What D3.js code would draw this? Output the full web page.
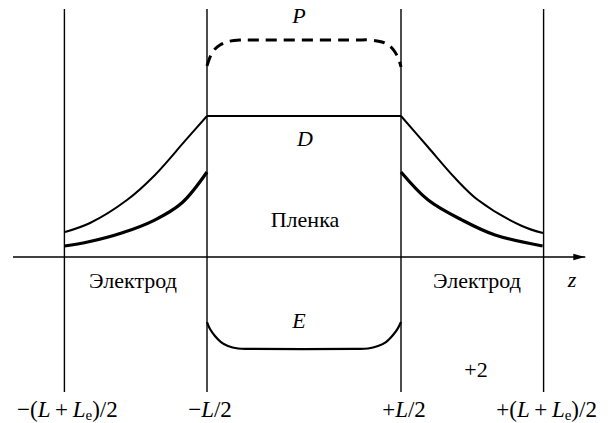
<!DOCTYPE html>
<html>
<head>
<meta charset="utf-8">
<script src="https://cdn.jsdelivr.net/npm/d3@7"></script>
<style>
  body { margin: 0; background: #fff; }
</style>
</head>
<body>
<div id="chart"></div>
<script>
// boundaries of the film and electrodes (units of L/2)
var zBounds = [-2.47, -1, 1, 2.47];

// D inside the electrodes (thin line)
var dLeftZ = [-2.464, -2.206, -1.825, -1.536, -1.227, -1.0];
var dLeftV = [0.177, 0.241, 0.404, 0.582, 0.823, 1.0];
var dRightZ = [1.0, 1.278, 1.557, 1.794, 2.247, 2.464];
var dRightV = [1.0, 0.78, 0.56, 0.404, 0.22, 0.17];

// D inside the film (plateau)
var dFilmZ = [-1, 1];
var dFilmV = [1.0, 1.0];

// thick curves in the electrodes
var eLeftZ = [-2.47, -2.23, -1.88, -1.54, -1.26, -1.0];
var eLeftV = [0.078, 0.106, 0.17, 0.262, 0.383, 0.603];
var eRightZ = [1.0, 1.28, 1.63, 1.97, 2.46];
var eRightV = [0.603, 0.404, 0.262, 0.156, 0.078];

// P (dashed) in the film
var pZ = [-1.0, -0.969, -0.928, -0.866, -0.784, -0.66, -0.505, 0.526, 0.68, 0.804, 0.887, 0.938, 0.979, 1.0];
var pV = [1.355, 1.418, 1.468, 1.504, 1.528, 1.539, 1.539, 1.539, 1.539, 1.525, 1.496, 1.454, 1.397, 1.348];

// E in the film
var fZ = [-1.0, -0.969, -0.918, -0.856, -0.784, -0.68, -0.557, 0.526, 0.66, 0.763, 0.845, 0.918, 0.969, 1.0];
var fV = [-0.461, -0.511, -0.56, -0.603, -0.631, -0.649, -0.652, -0.652, -0.649, -0.631, -0.603, -0.553, -0.504, -0.461];

var svgWidth = 613;
var svgHeight = 423;
var serif = "\"Liberation Serif\", \"DejaVu Serif\", \"Times New Roman\", serif";

var svg = d3.select("#chart")
  .append("svg")
  .attr("width", svgWidth)
  .attr("height", svgHeight);

svg.append("rect")
  .attr("width", svgWidth)
  .attr("height", svgHeight)
  .attr("fill", "#fff");

var x = d3.scaleLinear().domain([-3.0, 2.9]).range([13, 585.3]);
var y = d3.scaleLinear().domain([0, 1]).range([257, 116]);

function zip(zs, vs) {
  return zs.map((z, i) => ({ z: z, v: vs[i] }));
}

var line = d3.line()
  .x(d => x(d.z))
  .y(d => y(d.v))
  .curve(d3.curveCatmullRom.alpha(0.5));

// arrow head for the z axis
svg.append("defs").append("marker")
  .attr("id", "arrow")
  .attr("viewBox", "0 0 12 8")
  .attr("refX", 12)
  .attr("refY", 4)
  .attr("markerWidth", 12)
  .attr("markerHeight", 8)
  .attr("markerUnits", "userSpaceOnUse")
  .attr("orient", "auto")
  .append("path")
  .attr("d", "M0,0.8 L12,4 L0,7.2 Z")
  .attr("fill", "#000");

// z axis
svg.append("line")
  .attr("x1", x(-3.0))
  .attr("x2", x(2.9))
  .attr("y1", y(0))
  .attr("y2", y(0))
  .attr("stroke", "#000")
  .attr("stroke-width", 1.4)
  .attr("marker-end", "url(#arrow)");

// vertical boundary lines
svg.selectAll(".bound")
  .data(zBounds)
  .enter()
  .append("line")
  .attr("class", "bound")
  .attr("x1", d => x(d))
  .attr("x2", d => x(d))
  .attr("y1", y(1.759))
  .attr("y2", y(-0.957))
  .attr("stroke", "#000")
  .attr("stroke-width", 1.4);

// curves
var curves = [
  { pts: zip(dLeftZ, dLeftV), w: 2 },
  { pts: zip(dRightZ, dRightV), w: 2 },
  { pts: zip(dFilmZ, dFilmV), w: 2 },
  { pts: zip(eLeftZ, eLeftV), w: 3.2 },
  { pts: zip(eRightZ, eRightV), w: 3.2 },
  { pts: zip(fZ, fV), w: 2.2 },
  { pts: zip(pZ, pV), w: 3, dash: "11,7" }
];

svg.selectAll(".curve")
  .data(curves)
  .enter()
  .append("path")
  .attr("class", "curve")
  .attr("d", d => line(d.pts))
  .attr("fill", "none")
  .attr("stroke", "#000")
  .attr("stroke-width", d => d.w)
  .attr("stroke-dasharray", d => d.dash || null);

// italic symbol labels
var symbols = [
  { t: "P", x: 299, y: 23 },
  { t: "D", x: 305, y: 146 },
  { t: "E", x: 299, y: 328 },
  { t: "z", x: 572, y: 287 }
];
svg.selectAll(".sym")
  .data(symbols)
  .enter()
  .append("text")
  .attr("class", "sym")
  .attr("x", d => d.x)
  .attr("y", d => d.y)
  .attr("text-anchor", "middle")
  .style("font-family", serif)
  .style("font-size", "22px")
  .style("font-style", "italic")
  .text(d => d.t);

// plain labels
var words = [
  { t: "Пленка", x: 305, y: 227 },
  { t: "Электрод", x: 133, y: 288 },
  { t: "Электрод", x: 477, y: 288 },
  { t: "+2", x: 476, y: 377 }
];
svg.selectAll(".word")
  .data(words)
  .enter()
  .append("text")
  .attr("class", "word")
  .attr("x", d => d.x)
  .attr("y", d => d.y)
  .attr("text-anchor", "middle")
  .style("font-family", serif)
  .style("font-size", "22px")
  .text(d => d.t);

// boundary labels under the lines
var boundLabels = [
  [["\u2212(", ""], ["L", "i"], ["\u2009+\u2009", ""], ["L", "i"], ["e", "s"], [")/2", ""]],
  [["\u2212", ""], ["L", "i"], ["/2", ""]],
  [["+", ""], ["L", "i"], ["/2", ""]],
  [["+(", ""], ["L", "i"], ["\u2009+\u2009", ""], ["L", "i"], ["e", "s"], [")/2", ""]]
];

boundLabels.forEach(function(parts, i) {
  var t = svg.append("text")
    .attr("x", x(zBounds[i]) + 3)
    .attr("y", 417)
    .attr("text-anchor", "middle")
    .style("font-family", serif)
    .style("font-size", "23px");
  parts.forEach(function(p) {
    var s = t.append("tspan").text(p[0]);
    if (p[1] === "i") s.style("font-style", "italic");
    if (p[1] === "s") s.style("font-size", "15px").attr("dy", 3);
    if (p[0] === ")/2") s.attr("dy", -3);
  });
});
</script>
</body>
</html>
